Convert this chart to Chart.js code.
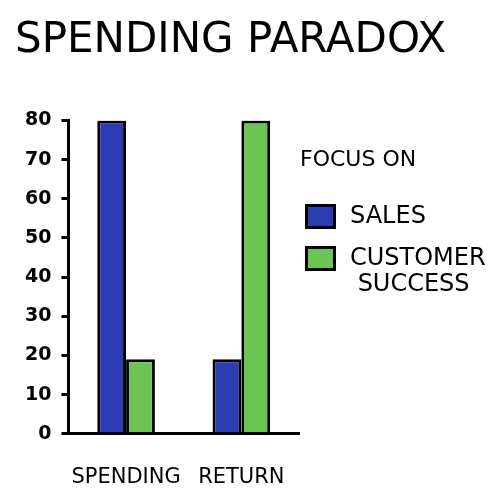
<!DOCTYPE html>
<html>
<head>
<meta charset="utf-8">
<script src="https://cdn.jsdelivr.net/npm/chart.js@4"></script>
<style>
  html, body { margin: 0; padding: 0; background: #fff; }
  #wrap { position: relative; width: 500px; height: 494px; }
  #legend { position: absolute; left: 300px; top: 146px; font-family: "DejaVu Sans", sans-serif; color: #000; }
  #legend .ttl { font-size: 22px; margin-bottom: 31px; }
  #legend .item { display: flex; align-items: flex-start; margin-bottom: 15px; }
  #legend .box { width: 25px; height: 19px; border: 3px solid #000; margin: 2px 14px 0 5px; flex: none; }
  #legend .lbl { font-size: 24px; line-height: 26px; }
</style>
</head>
<body>
<div id="wrap">
  <canvas id="c" width="500" height="494"></canvas>
  <div id="legend"></div>
</div>
<script>
const categories = ["SPENDING", "RETURN"]
const seriesNames = ["SALES", "CUSTOMER SUCCESS"]
const salesValues = [80, 19]
const successValues = [19, 80]
const yTicks = [0, 10, 20, 30, 40, 50, 60, 70, 80]
const legendTitle = "FOCUS ON"
const chartTitle = "SPENDING PARADOX"

const blue = "#2b3db5"
const green = "#6cc452"

const font = "'DejaVu Sans', sans-serif"

const bar = { borderColor: "#000", borderWidth: 3, barPercentage: 1, categoryPercentage: 0.5 }

const chart = new Chart(document.getElementById("c").getContext("2d"), {
  type: "bar",
  data: {
    labels: categories,
    datasets: [
      { label: seriesNames[0], data: salesValues, backgroundColor: blue, ...bar },
      { label: seriesNames[1], data: successValues, backgroundColor: green, ...bar }
    ]
  },
  options: {
    responsive: false,
    animation: false,
    layout: { padding: { left: 15, right: 0, bottom: -19 } },
    scales: {
      x: {
        offset: true,
        grid: { display: false },
        border: { display: true, color: "#000", width: 3 },
        ticks: { color: "#000", padding: 23, autoSkip: false, minRotation: 0, maxRotation: 0,
                 font: { family: font, size: 21 } }
      },
      y: {
        min: 0, max: 80,
        afterBuildTicks: (s) => { s.ticks = yTicks.map(v => ({ value: v })) },
        grid: { drawOnChartArea: false, drawTicks: true, tickLength: 7, color: "#000", lineWidth: 3 },
        border: { display: true, color: "#000", width: 3 },
        ticks: { color: "#000", padding: 10, font: { family: font, size: 19, weight: "bold" } }
      },
      // пустая ось справа — просто держит место под легенду
      spacer: {
        position: "right",
        grid: { display: false },
        border: { display: false },
        ticks: { display: false },
        afterFit: (s) => { s.width = 201 }
      }
    },
    plugins: {
      legend: { display: false },
      tooltip: { enabled: false },
      title: {
        display: true, text: chartTitle, color: "#000", align: "start",
        font: { family: font, size: 42, weight: "400" },
        padding: { top: 16, bottom: 54 }
      }
    }
  }
})

// легенда справа, как на рисунке — из датасетов графика
const lg = document.getElementById("legend")
lg.innerHTML = `<div class="ttl">${legendTitle}</div>` + chart.data.datasets.map(ds => {
  const words = ds.label.split(" ")
  const txt = words.length > 1 ? words[0] + "<br>&nbsp;" + words.slice(1).join(" ") : ds.label
  return `<div class="item"><div class="box" style="background:${ds.backgroundColor}"></div><div class="lbl">${txt}</div></div>`
}).join("")
</script>
</body>
</html>
